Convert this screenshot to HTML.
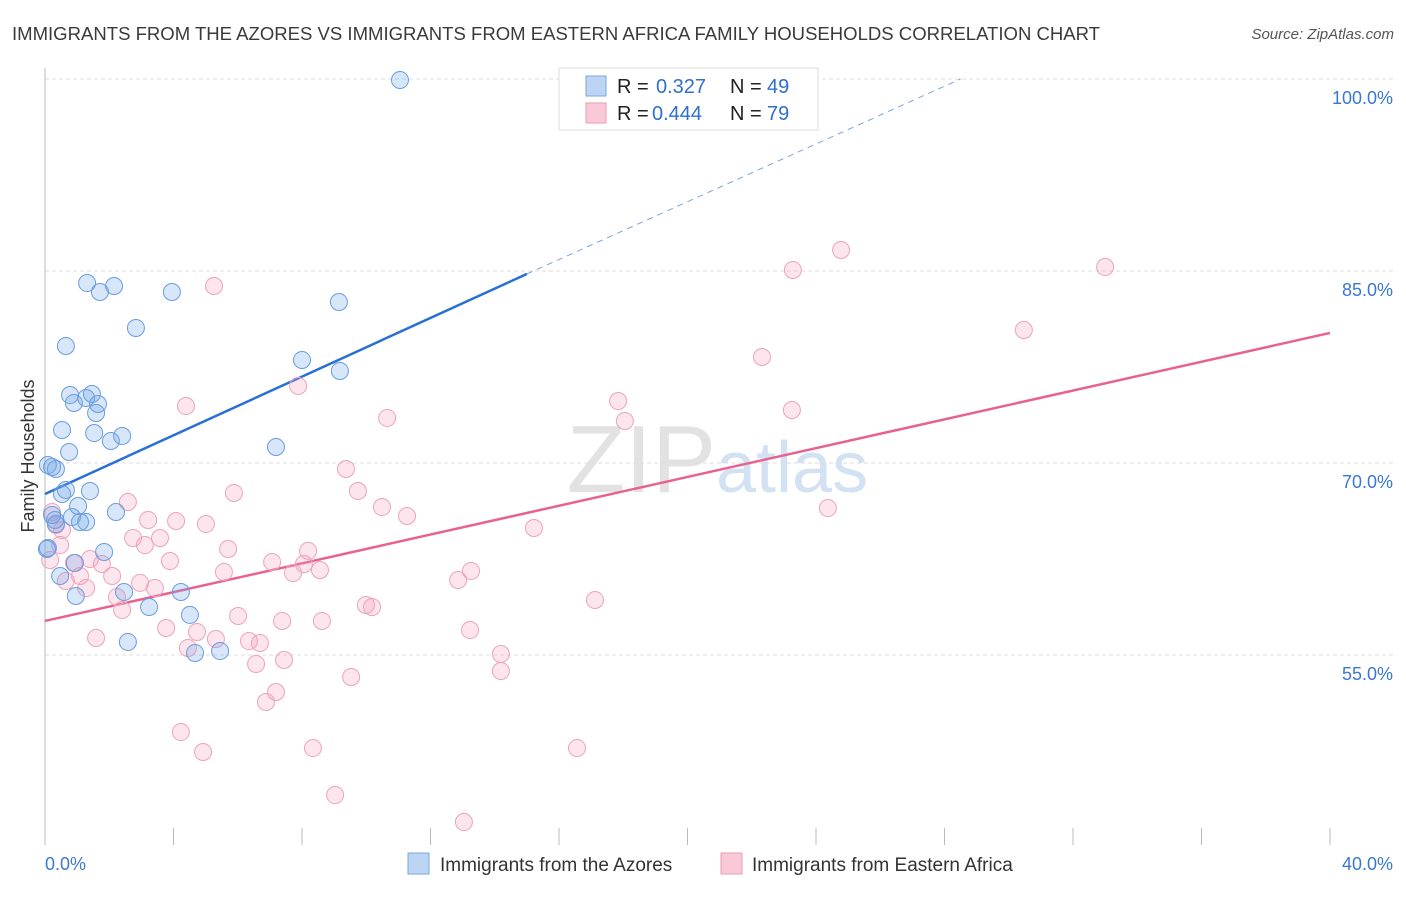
<!DOCTYPE html>
<html><head><meta charset="utf-8"><style>
body{margin:0;background:#fff;font-family:"Liberation Sans",sans-serif}
svg text{font-family:"Liberation Sans",sans-serif}
</style></head><body>
<svg width="1406" height="892" viewBox="0 0 1406 892">
<text x="12" y="40" font-size="18.5" fill="#3a3a3a" textLength="1088" lengthAdjust="spacingAndGlyphs">IMMIGRANTS FROM THE AZORES VS IMMIGRANTS FROM EASTERN AFRICA FAMILY HOUSEHOLDS CORRELATION CHART</text>
<text x="1394" y="39" font-size="15" fill="#555" font-style="italic" text-anchor="end">Source: ZipAtlas.com</text>
<text x="716" y="492" font-size="96" fill="#e2e2e2" text-anchor="end" font-family="Liberation Serif">ZIP</text>
<text x="716" y="492" font-size="72" fill="#d3e2f3">atlas</text>
<g id="grid"></g>
<line x1="45" y1="68" x2="45" y2="845" stroke="#bbb"/>
<text transform="translate(34,456) rotate(-90)" font-size="18" fill="#333" text-anchor="middle">Family Households</text>
<text x="45" y="870" font-size="18" fill="#3b78d0">0.0%</text>
<text x="1393" y="870" font-size="18" fill="#3b78d0" text-anchor="end">40.0%</text>
<g id="lines"></g>
<g id="pts"></g>
<g>
<rect x="559" y="68" width="259" height="62" fill="#fff" stroke="#ddd"/>
<rect x="586" y="76" width="20" height="20" fill="#bcd5f5" stroke="#7aa7e0"/>
<rect x="586" y="103" width="20" height="20" fill="#f9c9d8" stroke="#eb9bb6"/>
<text x="617" y="93" font-size="20" fill="#222">R =</text>
<text x="656" y="93" font-size="20" fill="#2f6fd0">0.327</text>
<text x="730" y="93" font-size="20" fill="#222">N =</text>
<text x="767" y="93" font-size="20" fill="#2f6fd0">49</text>
<text x="617" y="120" font-size="20" fill="#222">R =</text>
<text x="652" y="120" font-size="20" fill="#2f6fd0">0.444</text>
<text x="730" y="120" font-size="20" fill="#222">N =</text>
<text x="767" y="120" font-size="20" fill="#2f6fd0">79</text>
</g>
<g>
<rect x="408" y="853" width="21" height="21" fill="#bcd5f5" stroke="#7aa7e0"/>
<text x="440" y="871" font-size="19" fill="#333">Immigrants from the Azores</text>
<rect x="721" y="853" width="21" height="21" fill="#f9c9d8" stroke="#eb9bb6"/>
<text x="752" y="871" font-size="19" fill="#333">Immigrants from Eastern Africa</text>
</g>
</svg>
<script>
const yTicks=[100,85,70,55];
const yTickLabels=["100.0%","85.0%","70.0%","55.0%"];
const xTicks=[0,4,8,12,16,20,24,28,32,36,40];
const blueX=[11.05,1.31,2.15,1.71,3.95,9.15,2.83,0.65,8.0,9.18,0.78,1.46,0.90,1.28,1.65,1.59,1.53,2.40,2.05,0.53,7.19,0.75,0.09,0.34,0.22,0.65,0.53,1.40,1.03,0.84,0.34,1.28,1.09,2.21,0.09,1.84,0.47,0.93,2.46,0.96,3.24,4.23,4.51,2.58,4.67,5.45,0.31,0.22,0.06];
const blueY=[99.92,84.06,83.83,83.36,83.36,82.58,80.55,79.14,78.05,77.19,75.31,75.39,74.69,75.08,74.61,73.91,72.34,72.11,71.72,72.58,71.25,70.86,69.84,69.53,69.69,67.89,67.58,67.81,66.64,65.78,65.23,65.39,65.39,66.17,63.36,63.05,61.17,62.19,59.92,59.61,58.75,59.92,58.13,56.02,55.16,55.31,65.55,65.94,63.28];
const pinkX=[5.26,24.78,23.28,33.00,30.47,22.32,7.88,4.39,17.84,18.05,23.25,10.65,9.37,5.88,9.74,2.58,10.49,11.27,24.37,3.21,5.01,4.08,15.22,0.22,0.34,2.74,3.58,3.11,5.70,0.47,8.19,3.89,1.40,1.77,7.07,8.06,7.72,8.56,0.90,5.57,2.09,1.09,0.65,2.96,3.42,13.26,12.86,1.28,2.24,2.40,9.99,10.18,17.12,6.01,3.77,7.38,8.62,13.23,1.59,4.73,5.32,6.35,6.69,4.45,14.19,7.44,6.57,14.19,9.53,7.19,6.88,4.23,4.92,8.34,16.56,9.03,13.04,0.16,0.53];
const pinkY=[83.83,86.64,85.08,85.31,80.39,78.28,76.02,74.45,74.84,73.28,74.14,73.52,69.53,67.66,67.81,66.95,66.56,65.86,66.48,65.55,65.23,65.47,64.92,66.17,65.16,64.14,64.14,63.59,63.28,63.59,63.13,62.34,62.5,62.11,62.27,62.11,61.41,61.64,62.19,61.48,61.17,61.17,60.78,60.63,60.23,61.56,60.86,60.23,59.53,58.52,58.91,58.75,59.30,58.05,57.11,57.66,57.66,56.95,56.33,56.80,56.25,56.09,55.94,55.55,55.08,54.61,54.30,53.75,53.28,52.11,51.33,48.98,47.42,47.73,47.73,44.06,41.95,62.42,64.77];
const blueTrend=[0,67.58,15,84.77,28.5,100];
const pinkTrend=[0,57.66,40,80.16];
const NS="http://www.w3.org/2000/svg";
const sx=v=>45+v*32.125, sy=v=>79+(100-v)*12.8;
function mk(t,a,p){const e=document.createElementNS(NS,t);for(const k in a)e.setAttribute(k,a[k]);p.appendChild(e);return e;}
const g=document.getElementById('grid');
yTicks.forEach((v,i)=>{
 const l=mk('line',{x1:45,x2:1393,y1:sy(v),y2:sy(v),stroke:'#ddd','stroke-dasharray':'4,3'},g);
 
 
 const t=mk('text',{x:1393,y:sy(v)+25,'font-size':18,fill:'#3b78d0','text-anchor':'end'},g);
 t.textContent=yTickLabels[i];
 
 
});
xTicks.forEach(v=>{
 const l=mk('line',{x1:sx(v),x2:sx(v),y1:828,y2:845,stroke:'#bbb'},g);
 
 
});
const L=document.getElementById('lines');
let b=mk('line',{x1:sx(blueTrend[0]),y1:sy(blueTrend[1]),x2:sx(blueTrend[2]),y2:sy(blueTrend[3]),stroke:'#2a6fd6','stroke-width':2.5},L);


b=mk('line',{x1:sx(blueTrend[2]),y1:sy(blueTrend[3]),x2:sx(blueTrend[4]),y2:sy(blueTrend[5]),stroke:'#7aa3dc','stroke-width':1,'stroke-dasharray':'6,5'},L);


const p=mk('line',{x1:sx(pinkTrend[0]),y1:sy(pinkTrend[1]),x2:sx(pinkTrend[2]),y2:sy(pinkTrend[3]),stroke:'#e8628f','stroke-width':2.5},L);


const P=document.getElementById('pts');
pinkX.forEach((x,i)=>{
 const c=mk('circle',{cx:sx(x),cy:sy(pinkY[i]),r:8.5,fill:'rgba(244,160,188,0.28)',stroke:'#eda3bd','stroke-width':1},P);
 
 
});
blueX.forEach((x,i)=>{
 const c=mk('circle',{cx:sx(x),cy:sy(blueY[i]),r:8.5,fill:'rgba(110,165,232,0.28)',stroke:'#6a9ddd','stroke-width':1},P);
 
 
});
</script>
</body></html>
